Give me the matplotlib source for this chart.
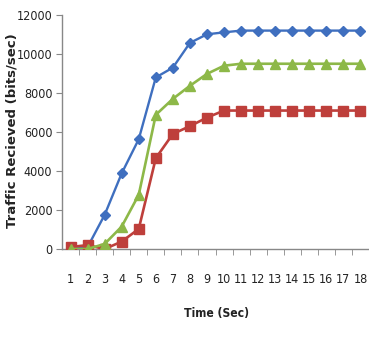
import matplotlib
matplotlib.use("Agg")
import matplotlib.pyplot as plt
from matplotlib import font_manager
from matplotlib.font_manager import FontProperties

time_sec = list(range(1, 19))
blue_vals = [0, 100, 1750, 3880, 5630, 8800, 9300, 10570, 11010, 11110,
             11200, 11200, 11200, 11200, 11200, 11200, 11200, 11200]
red_vals = [100, 200, 0, 380, 1030, 4660, 5900, 6300, 6740, 7100,
            7100, 7100, 7100, 7100, 7100, 7100, 7100, 7100]
green_vals = [0, 0, 260, 1150, 2780, 6880, 7700, 8370, 8980, 9400,
              9500, 9500, 9500, 9500, 9500, 9500, 9500, 9500]
y_ticks = [0, 2000, 4000, 6000, 8000, 10000, 12000]

cands = [f for f in font_manager.fontManager.ttflist
         if ("condensed" in f.fname.lower() or "narrow" in f.fname.lower())]
plain = [f for f in cands if not any(k in f.fname.lower() for k in ("oblique", "italic"))]
reg = [f for f in plain if "bold" not in f.fname.lower()]
bold = [f for f in plain if "bold" in f.fname.lower()]
if reg:
    tick_fp = FontProperties(fname=reg[0].fname, size=9)
else:
    tick_fp = FontProperties(family="Liberation Sans", size=9)
if bold:
    lab_fp = FontProperties(fname=bold[0].fname, size=8.7)
else:
    lab_fp = FontProperties(family="Liberation Sans", weight="bold", size=8.7)

fig = plt.figure(figsize=(3.69, 3.46), dpi=100)
ax = fig.add_axes([62/369, 1-249/346, 1-62/369, (249-15)/346])

ax.plot(time_sec, blue_vals, color="#3F6FBF", lw=1.7, marker="D", ms=5, zorder=3)
ax.plot(time_sec, red_vals, color="#BE3F3B", lw=1.9, marker="s", ms=7, zorder=4)
ax.plot(time_sec, green_vals, color="#8DB848", lw=1.9, marker="^", ms=7, zorder=5)

ax.set_xlim(0.5, 18.5)
ax.set_ylim(0, 12000)
ax.set_yticks(y_ticks)
ax.set_xticks(time_sec)
ax.set_xticks([t + 0.5 for t in time_sec[:-1]], minor=True)
ax.tick_params(axis="x", which="major", length=0, pad=17)
ax.tick_params(axis="x", which="minor", length=4, color="#888888")
ax.tick_params(axis="y", length=4, color="#888888", pad=3)
for lab in ax.get_xticklabels() + ax.get_yticklabels():
    lab.set_fontproperties(tick_fp)
    lab.set_color("#222222")

for s in ["top", "right"]:
    ax.spines[s].set_visible(False)
for s in ["left", "bottom"]:
    ax.spines[s].set_color("#888888")
    ax.spines[s].set_linewidth(1.0)

fig.text(216/369, 1-313/346, "Time (Sec)", fontproperties=lab_fp,
         ha="center", va="center", color="#222222")
fig.text(12/369, 1-131/346, "Traffic Recieved (bits/sec)", fontweight="bold",
         fontsize=9.5, rotation=90, ha="center", va="center", color="#222222")

fig.savefig("out.png", dpi=100)
